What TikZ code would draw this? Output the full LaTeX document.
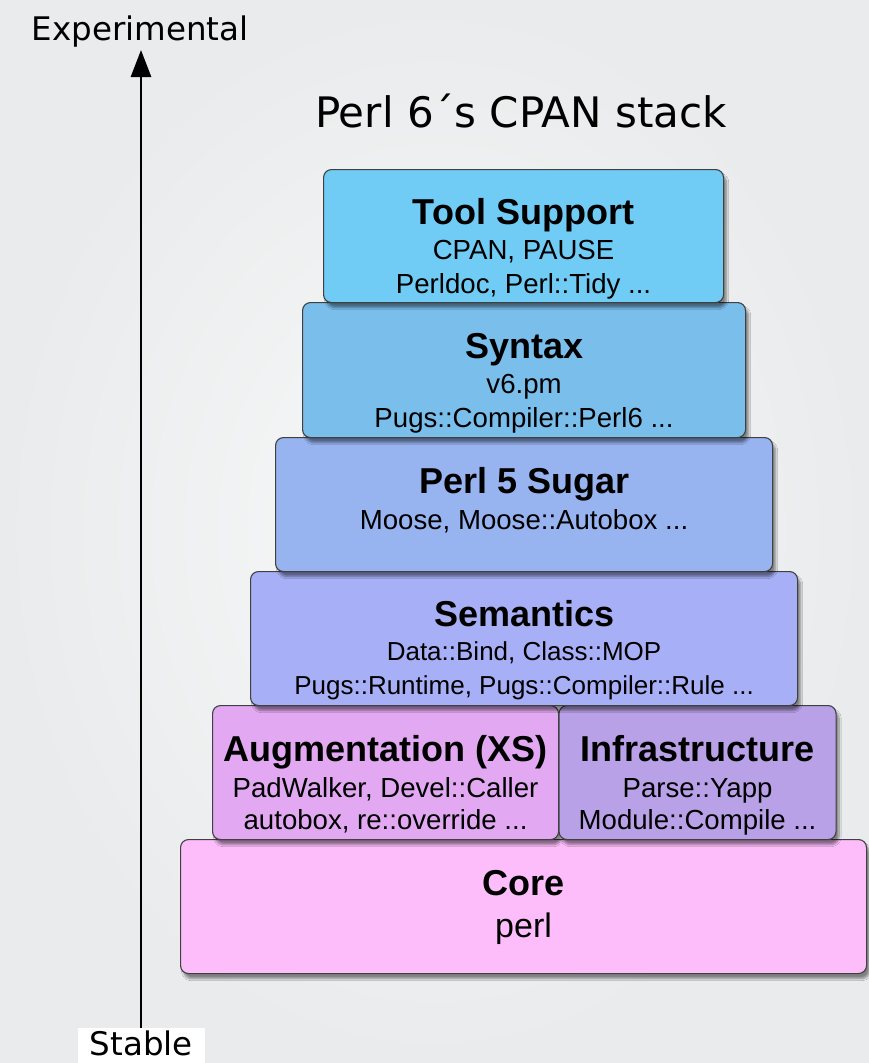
\documentclass[tikz,border=0pt]{standalone}
\usepackage{fontspec}
\setmainfont{Liberation Sans}
\newfontfamily\labelfont{DejaVu Sans}
\usetikzlibrary{shadows.blur,arrows.meta,calc}
\definecolor{toolc}{HTML}{70CCF4}
\definecolor{syntc}{HTML}{7ABEEC}
\definecolor{sugarc}{HTML}{98B4F0}
\definecolor{semc}{HTML}{A7AFF6}
\definecolor{augc}{HTML}{E2A9F2}
\definecolor{infrac}{HTML}{B9A1E8}
\definecolor{corec}{HTML}{FDBDFB}
\definecolor{bgin}{HTML}{F8F9F9}
\definecolor{bgout}{HTML}{E9EBEC}
\begin{document}
\begin{tikzpicture}[x=1pt,y=-1pt,
  layer/.style={draw=black!75, line width=1.1pt, rounded corners=8pt,
    anchor=north west, inner sep=0pt,
    blur shadow={shadow xshift=3pt, shadow yshift=-5pt, shadow blur steps=8, shadow opacity=45}},
  ttl/.style={anchor=base, font=\fontsize{36}{36}\selectfont\bfseries, inner sep=0pt},
  sub/.style={anchor=base, font=\fontsize{27.6}{27.6}\selectfont, inner sep=0pt},
  subsm/.style={sub, font=\fontsize{26}{26}\selectfont},
  axislabel/.style={font=\labelfont\fontsize{32.5}{32.5}\selectfont, inner sep=0pt, anchor=base}]
% background
\useasboundingbox (0,0) rectangle (869,1063);
\shade[inner color=bgin, outer color=bgout] (0,0) rectangle (869,1063);

% title
\node[anchor=base, font=\labelfont\fontsize{42}{42}\selectfont, inner sep=0pt] (title) at (521,127) {Perl 6´s CPAN stack};

% stack, bottom layer first
\node[layer, fill=corec, minimum width=686pt, minimum height=134pt] (core) at (180,839) {};
\node[layer, fill=augc, minimum width=346pt, minimum height=134pt] (aug) at (212,705) {};
\node[layer, fill=infrac, minimum width=277pt, minimum height=134pt] (infra) at (558.5,705) {};
\node[layer, fill=semc, minimum width=547pt, minimum height=134pt] (sem) at (250,571) {};
\node[layer, fill=sugarc, minimum width=497pt, minimum height=134pt] (sugar) at (275,437) {};
\node[layer, fill=syntc, minimum width=443pt, minimum height=135pt] (synt) at (302,302) {};
\node[layer, fill=toolc, minimum width=400pt, minimum height=133pt] (tool) at (323,169) {};

% layer texts
\node[ttl] (toolT) at ($(tool.north)+(0,55)$) {Tool Support};
\node[sub] (toolA) at ($(tool.north)+(0,90)$) {CPAN, PAUSE};
\node[sub] (toolB) at ($(tool.north)+(0,124)$) {Perldoc, Perl::Tidy ...};

\node[ttl] (syntT) at ($(synt.north)+(0,56)$) {Syntax};
\node[sub] (syntA) at ($(synt.north)+(0,91)$) {v6.pm};
\node[sub] (syntB) at ($(synt.north)+(0,125)$) {Pugs::Compiler::Perl6 ...};

\node[ttl] (sugarT) at ($(sugar.north)+(0,56)$) {Perl 5 Sugar};
\node[sub] (sugarA) at ($(sugar.north)+(0,92)$) {Moose, Moose::Autobox ...};

\node[ttl] (semT) at ($(sem.north)+(0,55)$) {Semantics};
\node[subsm] (semA) at ($(sem.north)+(0,89)$) {Data::Bind, Class::MOP};
\node[subsm] (semB) at ($(sem.north)+(0,123)$) {Pugs::Runtime, Pugs::Compiler::Rule ...};

\node[ttl] (augT) at ($(aug.north)+(0,56)$) {Augmentation (XS)};
\node[sub] (augA) at ($(aug.north)+(0,92)$) {PadWalker, Devel::Caller};
\node[sub] (augB) at ($(aug.north)+(0,124)$) {autobox, re::override ...};

\node[ttl] (infraT) at ($(infra.north)+(0,56)$) {Infrastructure};
\node[sub] (infraA) at ($(infra.north)+(0,92)$) {Parse::Yapp};
\node[sub] (infraB) at ($(infra.north)+(0,124)$) {Module::Compile ...};

\node[ttl] (coreT) at ($(core.north)+(0,56)$) {Core};
\node[sub, font=\fontsize{34}{34}\selectfont] (coreA) at ($(core.north)+(0,98)$) {perl};

% stability axis
\node[axislabel] (exper) at (140,40) {Experimental};
\coordinate (axisfoot) at (141,1045);
\coordinate (axistip) at (141,50);
\draw[line width=2.8pt, -{Triangle[width=20pt,length=27pt]}] (axisfoot) -- (axistip);
\node[fill=white, minimum width=127pt, minimum height=36pt, inner sep=0pt, anchor=north west] (stablebox) at (77.5,1028) {};
\node[axislabel] (stable) at ($(stablebox.north)+(0,27)$) {Stable};
\end{tikzpicture}
\end{document}
